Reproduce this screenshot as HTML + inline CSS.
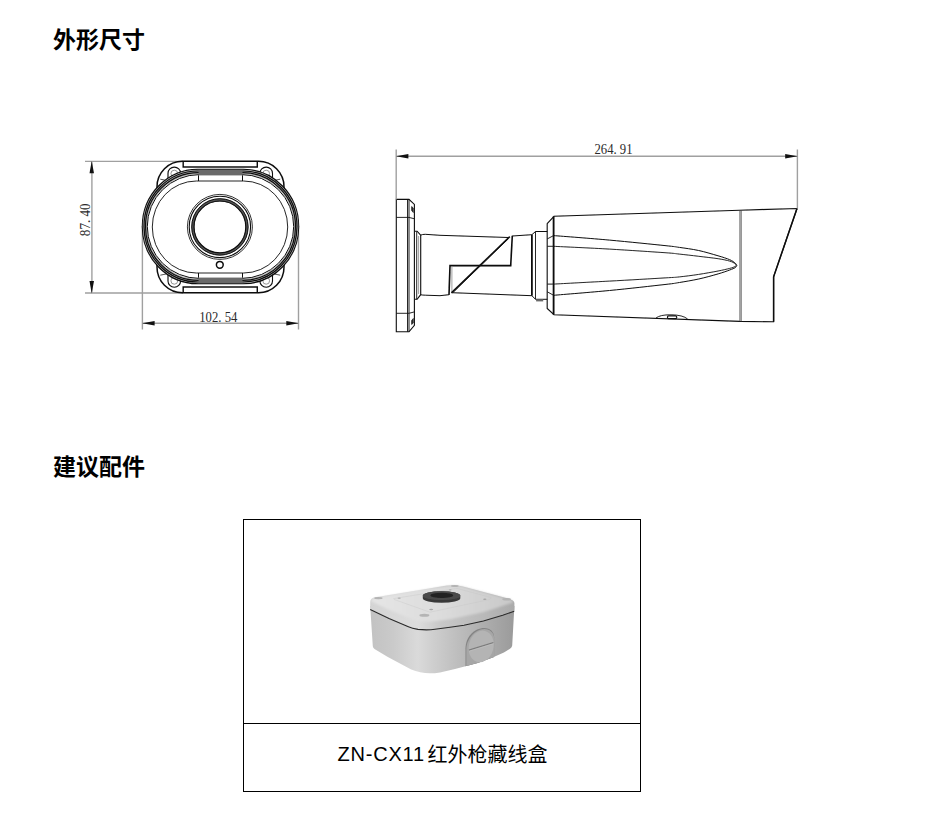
<!DOCTYPE html>
<html lang="zh-CN">
<head>
<meta charset="utf-8">
<title>外形尺寸</title>
<style>
  html, body { margin: 0; padding: 0; background: #fff; }
  body { width: 930px; height: 831px; position: relative; overflow: hidden;
         font-family: "Liberation Sans", "Noto Sans CJK SC", sans-serif; color: #000; }
  h2 { position: absolute; margin: 0; left: 53px; font-size: 23px; line-height: 32px;
       font-weight: bold; white-space: nowrap; letter-spacing: 0; }
  #h-dim { top: 24px; }
  #h-acc { top: 451px; }
  #drawing { position: absolute; left: 0; top: 0; width: 930px; height: 400px; }
  #acc { position: absolute; left: 243px; top: 519px; width: 396px; height: 271px;
         border: 1px solid #000; }
  #acc .pic { position: absolute; left: 0; top: 0; width: 396px; height: 203px;
              border-bottom: 1px solid #000; }
  #acc .cap { position: absolute; left: 0; top: 204px; width: 396px; height: 67px;
              line-height: 67px; text-align: left; font-size: 20px; white-space: nowrap; }
  #acc .cap .lat { position: absolute; left: 93.5px; top: -3px; letter-spacing: 0.8px; }
  #acc .cap .cjk { position: absolute; left: 183.5px; top: -2px; }
  #box { position: absolute; left: 0; top: 0; width: 396px; height: 203px; }
  .dimtxt { font-family: "Liberation Serif", serif; font-size: 12.7px; fill: #2a2a2a; }
</style>
</head>
<body>
<h2 id="h-dim">外形尺寸</h2>

<svg id="drawing" viewBox="0 0 930 400" fill="none" stroke="#0c0c0c" stroke-width="1">
<defs><filter id="lblur" x="-2%" y="-2%" width="104%" height="104%"><feGaussianBlur stdDeviation="0.35"/></filter></defs>
<!-- front dims -->
<g stroke="#a0a0a0" stroke-width="1.4">
  <path d="M85 161.4 H183 M85 293 H183"/>
  <path d="M91.9 161.4 V293"/>
  <path d="M142.4 226 V329.5 M298.5 226 V329.5"/>
  <path d="M142.4 323.3 H298.5"/>
</g>
<g fill="#111" stroke="none">
  <path d="M91.7 161 L89.5 173.3 H94 Z"/>
  <path d="M91.7 293.4 L89.5 281 H94 Z"/>
  <path d="M142.2 323.3 L154.6 321.1 V325.6 Z"/>
  <path d="M298.7 323.3 L286.3 321.1 V325.6 Z"/>
</g>
<text class="dimtxt" stroke="none" transform="translate(218.3 321.8) scale(1 1.1)" text-anchor="middle">102. 54</text>
<text class="dimtxt" stroke="none" transform="translate(90 219.8) rotate(-90) scale(1.03 1.12)" text-anchor="middle">87. 40</text>
<!-- ===== front view ===== -->
<g id="front" filter="url(#lblur)">
  <!-- mounting plate behind -->
  <rect x="157" y="161.3" width="127" height="131.4" rx="25.5" ry="25.5" stroke-width="1.5"/>
  <path d="M183.2 161.3 V167 H257.3 V161.3 M183.2 292.7 V287 H257.3 V292.7" stroke-width="1.4"/>
  <!-- screw bosses -->
  <g stroke-width="1.1">
    <path d="M168 186 V173.4 A6.3 6.3 0 0 1 180.6 173.4 V186"/>
    <path d="M259.9 186 V173.4 A6.3 6.3 0 0 1 272.5 173.4 V186"/>
    <path d="M168 268 V281 A6.3 6.3 0 0 0 180.6 281 V268"/>
    <path d="M259.9 268 V281 A6.3 6.3 0 0 0 272.5 281 V268"/>
    <g stroke="#888" stroke-width="0.9">
      <circle cx="174.3" cy="173.6" r="3.4"/><circle cx="266.2" cy="173.6" r="3.4"/>
      <circle cx="174.3" cy="280.8" r="3.4"/><circle cx="266.2" cy="280.8" r="3.4"/>
    </g>
    <path d="M160.3 179.2 L166 180.4 M280.2 179.2 L274.5 180.4 M160.3 275.2 L166 274 M280.2 275.2 L274.5 274" stroke-width="0.7"/>
  </g>
  <!-- outer oval body -->
  <rect x="142.6" y="169.5" width="155.8" height="114" rx="55" ry="56.9" fill="#fff" stroke-width="1.7"/>
  <rect x="144.9" y="172" width="151.2" height="109" rx="53.4" ry="54.4" stroke-width="4.4" stroke="#b4b4b4"/>
  <rect x="144" y="171" width="153" height="111" rx="54" ry="55.4" stroke-width="1.2"/>
  <rect x="145.5" y="172.6" width="150" height="107.8" rx="53" ry="53.8" stroke-width="1.2"/>
  <rect x="147.3" y="174.6" width="146.4" height="103.8" rx="52" ry="51.8" stroke-width="1"/>
  <!-- gray bands top/bottom -->
  <rect x="198.5" y="170" width="44" height="5.3" fill="#6a6a6a" stroke="none"/>
  <rect x="198.5" y="277.7" width="44" height="5.3" fill="#6a6a6a" stroke="none"/>
  <!-- inner oval -->
  <rect x="152.3" y="181" width="135.4" height="92" rx="44" ry="46" stroke-width="0.9"/>
  <!-- notches -->
  <path d="M198.5 175.3 V181 M242.5 175.3 V181 M198.5 277.7 V273 M242.5 277.7 V273" stroke-width="1"/>
  <!-- lens -->
  <circle cx="219.9" cy="226.9" r="32.5" stroke-width="1" stroke="#333"/>
  <circle cx="219.9" cy="226.9" r="30.7" stroke-width="1.1"/>
  <circle cx="219.9" cy="226.9" r="27" stroke-width="3" stroke="#555"/>
  <circle cx="219.9" cy="226.9" r="28.2" stroke-width="1" stroke="#111"/>
  <circle cx="219.9" cy="226.9" r="25.9" stroke-width="1.2" stroke="#111"/>
  <!-- ir sensor -->
  <circle cx="219.8" cy="264.8" r="3.4" stroke-width="1.5"/>
</g>
<!-- ===== side view ===== -->
<g id="side" stroke-width="1" filter="url(#lblur)">
  <!-- flange -->
  <path d="M396.3 199.4 H409 L414.4 204.4 V325.4 L409 331.8 H396.3 Z" stroke-width="1.1"/>
  <path d="M396.3 217.4 H409 L414.4 218.8 M396.3 313.3 H409 L414.4 311.9" stroke-width="0.9"/>
  <path d="M407.5 199.4 V331.8 M409 199.4 V331.8" stroke-width="0.9"/>
  <path d="M411.6 206.5 L413.3 208 V212.5 L411.6 210.5 Z M411.6 324.5 L413.3 323 V318.5 L411.6 320.5 Z" fill="#333" stroke-width="0.6"/>
  <!-- arm base ring -->
  <path d="M414.4 231.2 H417.1 L420.7 235.1 V294.7 L417.1 299.3 H414.4" stroke-width="1.1"/>
  <path d="M416.7 231.5 V299.3" stroke-width="0.9"/>
  <path d="M418.6 236 V294" stroke="#888" stroke-width="0.8"/>
  <!-- arm -->
  <path d="M420.7 235.1 Q422.5 234.3 425.2 234.3 L440 235.3 L508.4 237.5" stroke-width="1"/>
  <path d="M420.7 294.7 Q422.5 295.2 425.2 295.2 L440 295.7 L449 294.7" stroke-width="1"/>
  <path d="M451.9 292.7 L531.9 295.7" stroke-width="1"/>
  <path d="M449 294.9 L450 265.6 H510.7 L512.3 235.8" stroke-width="1.6" stroke-linejoin="miter"/>
  <path d="M451.9 266.5 V292.5" stroke-width="0.7" stroke="#777"/>
  <path d="M509.8 236.6 L451.4 292.9" stroke-width="1.5"/>
  <path d="M508.2 238.9 L452.9 292.6" stroke-width="0.9"/>
  <path d="M512.3 236 L531.9 234.7" stroke-width="1"/>
  <!-- ring near body -->
  <path d="M531.9 234.7 V295.7" stroke-width="1.8"/>
  <path d="M535.5 231.5 V299.3" stroke-width="0.9"/>
  <path d="M531.9 234.7 L535.5 231.5 H547.3 M531.9 295.7 L535.5 299.3 H547.3" stroke-width="1"/>
  <rect x="536.1" y="299.3" width="7.1" height="2.1" fill="#6a6a6a" stroke="none"/>
  <!-- body -->
  <path d="M547.2 223.7 L554 216.3 L739.8 210.2 L797 208.5 L773.6 276.8 V321.8 L739.8 321.4 L554 314.7 L547.2 308.4 Z" stroke-width="1.1"/>
  <path d="M553.6 216.5 V314.6" stroke-width="1.8"/>
  <path d="M739.9 210.2 V321.3 M741.2 210.2 V321.3" stroke-width="0.8" stroke="#444"/>
  <path d="M797 208.5 L773.6 276.8 V321.8" stroke-width="1.5"/>
  <!-- leaf -->
  <path d="M547.3 238.9 L553.6 235.6 M547.3 246.3 H553.6 M547.3 284.1 H553.6 M547.3 291.8 L553.6 295.3" stroke-width="0.9"/>
  <path d="M553.6 235.6 C562.9 236.3 590.9 238.4 609.5 240.1 C628.1 241.8 653.4 244.4 665.0 245.6 C676.6 246.8 673.8 246.6 679.4 247.4 C685.0 248.2 692.2 249.1 698.7 250.5 C705.2 251.9 712.9 254.3 718.1 255.8 C723.3 257.3 726.8 258.5 729.7 259.7 C732.6 260.9 734.1 262.2 735.3 263.2 C736.5 264.2 736.5 265.1 736.8 265.5" stroke-width="1"/>
  <path d="M553.6 295.3 C562.9 294.5 590.9 292.3 609.5 290.5 C628.1 288.7 653.4 285.8 665.0 284.5 C676.6 283.2 673.8 283.4 679.4 282.5 C685.0 281.6 692.2 280.4 698.7 279.0 C705.2 277.6 712.9 275.4 718.1 273.9 C723.3 272.4 726.8 271.1 729.7 270.0 C732.6 268.9 734.1 268.4 735.3 267.6 C736.5 266.9 736.5 265.9 736.8 265.5" stroke-width="1"/>
  <path d="M553.6 246.3 C562.9 246.8 590.9 248.0 609.5 249.1 C628.1 250.2 653.4 251.9 665.0 252.7 C676.6 253.5 673.8 253.5 679.4 254.1 C685.0 254.7 692.2 255.5 698.7 256.3 C705.2 257.1 712.9 257.9 718.1 258.7 C723.3 259.5 726.9 260.3 729.7 261.1 C732.5 261.9 733.9 262.9 735.0 263.6 C736.1 264.3 736.0 265.2 736.2 265.5" stroke-width="0.9"/>
  <path d="M553.6 284.1 C562.9 283.6 590.9 282.1 609.5 281.1 C628.1 280.1 653.4 278.6 665.0 277.9 C676.6 277.2 673.8 277.5 679.4 276.9 C685.0 276.3 692.2 275.4 698.7 274.4 C705.2 273.4 712.9 272.0 718.1 271.0 C723.3 270.0 726.9 269.1 729.7 268.4 C732.5 267.7 733.9 267.1 735.0 266.6 C736.1 266.1 736.0 265.7 736.2 265.5" stroke-width="0.9"/>
  <!-- bump at bottom -->
  <path d="M656 318 Q660 314.7 671 314.8 Q683 315 687.6 319" stroke-width="0.9"/>
  <rect x="667.4" y="315.9" width="9.4" height="2.7" rx="1.3" stroke-width="1.1" stroke="#111"/>
</g>
<!-- side dims -->
<g stroke="#a0a0a0" stroke-width="1.4">
  <path d="M396.2 149.5 V199.4 M797.4 149.5 V208.5"/>
  <path d="M396.2 156.3 H797.4"/>
</g>
<g fill="#111" stroke="none">
  <path d="M396 156.3 L408.4 154.1 V158.6 Z"/>
  <path d="M797.6 156.3 L785.2 154.1 V158.6 Z"/>
</g>
<text class="dimtxt" stroke="none" transform="translate(613.5 154.2) scale(1 1.1)" text-anchor="middle">264. 91</text>

</svg>

<h2 id="h-acc">建议配件</h2>

<div id="acc">
  <div class="pic">
    <svg id="box" viewBox="244 520 396 203">
<defs>
  <linearGradient id="gBody" gradientUnits="userSpaceOnUse" x1="370" y1="0" x2="515" y2="0">
    <stop offset="0" stop-color="#c2c2c2"/>
    <stop offset="0.16" stop-color="#cacaca"/>
    <stop offset="0.33" stop-color="#dadada"/>
    <stop offset="0.42" stop-color="#d0d0d0"/>
    <stop offset="0.60" stop-color="#bebebe"/>
    <stop offset="0.85" stop-color="#a8a8a8"/>
    <stop offset="1" stop-color="#9a9a9a"/>
  </linearGradient>
  <linearGradient id="gRim" gradientUnits="userSpaceOnUse" x1="370" y1="0" x2="515" y2="0">
    <stop offset="0" stop-color="#d4d4d4"/>
    <stop offset="0.33" stop-color="#dddddd"/>
    <stop offset="0.48" stop-color="#c9c9c9"/>
    <stop offset="0.8" stop-color="#b8b8b8"/>
    <stop offset="1" stop-color="#aaaaaa"/>
  </linearGradient>
  <linearGradient id="gTop" gradientUnits="userSpaceOnUse" x1="372" y1="0" x2="514" y2="0">
    <stop offset="0" stop-color="#e5e5e5"/>
    <stop offset="0.45" stop-color="#dddddd"/>
    <stop offset="0.8" stop-color="#d0d0d0"/>
    <stop offset="1" stop-color="#c8c8c8"/>
  </linearGradient>
  <filter id="soft" x="-5%" y="-5%" width="110%" height="110%"><feGaussianBlur stdDeviation="0.45"/></filter>
  <filter id="soft2" x="-10%" y="-10%" width="120%" height="120%"><feGaussianBlur stdDeviation="0.9"/></filter>
</defs>
<g filter="url(#soft)">
  <!-- body -->
  <path d="M370.2 606 L372.8 646.3 Q373 648 374.5 648.9 L387.4 656.8 L411.2 669.6 Q424 675 440 672.4 L455 669 L465.5 666.3 L477.6 662.9 L492.6 657.6 L503.9 652.4 L510 648.8 Q512 647.6 512.2 645.5 L514.4 606 Z" fill="url(#gBody)"/>
  <!-- lid rim -->
  <path d="M370.2 602 Q370.2 599 374 597.6 L447 585.6 Q454.4 584.6 462 586.2 L508 598.6 Q514.4 600.4 514.4 603 V611 L502.7 615.2 L483.4 621 L464 625.3 L450 627.3 L435 629.2 Q427.7 630.4 418 629.4 Q412 628.4 408.4 626.8 L389 618.5 L370.2 609.4 Z" fill="url(#gRim)"/>
  <!-- top face -->
  <path d="M371.2 601.2 Q371 599.4 375 598 L447 585.9 Q454.4 584.9 462 586.5 L507.5 598.8 Q513.4 600.6 513 602.6 L483 612.3 L450 619.2 L432 621.6 Q424 622.2 416 620.4 L389 609.8 Z" fill="url(#gTop)" filter="url(#soft2)"/>
  <!-- seam -->
  <path d="M370.2 609.4 L389 618.5 L408.4 626.8 Q412 628.4 418 629.4 Q427.7 630.4 435 629.2 L450 627.3 L464 625.3 L483.4 621 L502.7 615.2 L514.2 611.2" fill="none" stroke="#2a2a2a" stroke-width="1.1"/>
  <!-- screws on lid -->
  <g fill="#b4b4b4">
    <ellipse cx="378.4" cy="598.1" rx="4.3" ry="1.2"/>
    <ellipse cx="454.8" cy="585.9" rx="3.8" ry="1"/>
    <ellipse cx="506.6" cy="599.3" rx="4.4" ry="1.2"/>
    <ellipse cx="424.4" cy="615.2" rx="5" ry="1.5"/>
  </g>
  <g fill="#a6a6a6">
    <ellipse cx="399.2" cy="598.1" rx="1.7" ry="0.7"/>
    <ellipse cx="450.3" cy="589.8" rx="1.4" ry="0.6"/>
    <ellipse cx="484.8" cy="599.3" rx="1.7" ry="0.7"/>
    <ellipse cx="431.2" cy="609.5" rx="2" ry="0.8"/>
  </g>
  <!-- inset line -->
  <path d="M393.6 598.6 L457 588.4 L491.2 597.6 L489.5 599.5 L430 612.2 L394.5 599.6 Z" fill="none" stroke="#c4c4c4" stroke-width="0.5" opacity="0.7"/>
  <!-- gasket ring -->
  <path d="M422.8 595.7 A18.75 4.4 0 0 1 460.3 595.7 V598.3 A18.75 4.4 0 0 1 422.8 598.3 Z" fill="#383838"/>
  <ellipse cx="441.55" cy="595.7" rx="18.75" ry="4.4" fill="#4a4a4a"/>
  <ellipse cx="441.8" cy="595.4" rx="11.5" ry="2.6" fill="#222"/>
  <!-- knockout boss -->
  <path d="M465.5 666.3 V648.6 C465.5 637 474 627.9 484.4 627.9 C490 627.9 494.1 631.5 494.1 637.3 V657 L492.6 657.6 L477.6 662.9 Z" fill="#848484"/>
  <path d="M466.3 666.1 V649 C466.5 640 474 629.2 484.4 629 C490 629 494.1 633 494.1 638 V657 L492.6 657.6 L477.6 662.9 Z" fill="#a6a6a6"/>
  <ellipse cx="481.2" cy="646.4" rx="12.3" ry="16" fill="#b4b4b4" transform="rotate(14 481.2 646.4)"/>
  <path d="M468.9 650.1 L493.4 642.6" stroke="#7c7c7c" stroke-width="1.2" fill="none"/>
  <path d="M469.2 651.1 L493.6 643.6" stroke="#c4c4c4" stroke-width="0.6" fill="none"/>
</g>

    </svg>
  </div>
  <div class="cap"><span class="lat">ZN-CX11</span> <span class="cjk">红外枪藏线盒</span></div>
</div>
</body>
</html>
